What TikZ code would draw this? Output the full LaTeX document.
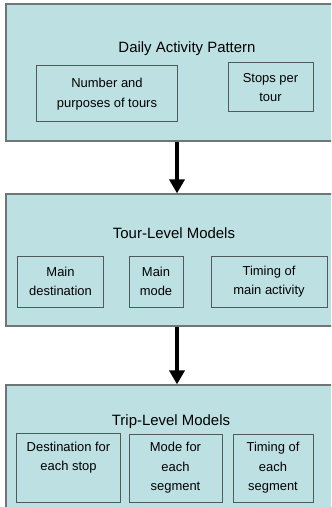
\documentclass[tikz,border=0pt]{standalone}
\usepackage{fontspec}
\setmainfont{Liberation Sans}
\usetikzlibrary{arrows.meta}
\definecolor{boxfill}{RGB}{189,224,227}
\definecolor{outerline}{RGB}{110,118,118}
\definecolor{innerline}{RGB}{80,90,90}
\begin{document}
\begin{tikzpicture}[x=1bp,y=-1bp,
  bigbox/.style={draw=outerline, line width=1.2bp, fill=boxfill, inner sep=0pt},
  smallbox/.style={draw=innerline, line width=1bp, inner sep=0pt, align=center, font=\fontsize{13}{19.5}\selectfont},
  plaintext/.style={inner sep=0pt, align=center, font=\fontsize{13}{19.5}\selectfont},
  title/.style={inner sep=0pt, font=\fontsize{15}{18}\selectfont},
  arr/.style={line width=3.5bp, -{Triangle[width=15bp,length=14bp]}}]
\useasboundingbox (0,0) rectangle (331,507);
\clip (0,0) rectangle (331,507);
% level 1
\node[bigbox, minimum width=334bp, minimum height=137bp] (b1) at (173,72.5) {};
\node[title] (t1) at (187,49) {Daily Activity Pattern};
\node[smallbox, minimum width=140bp, minimum height=56bp] (n1) at (107,94) {Number and\\purposes of tours};
\node[smallbox, minimum width=85bp, minimum height=49bp] (n2) at (270.5,87.5) {Stops per\\tour};
% level 2
\node[bigbox, minimum width=334bp, minimum height=132bp] (b2) at (173,260) {};
\node[title] (t2) at (174,233) {Tour-Level Models};
\node[smallbox, minimum width=85bp, minimum height=51bp] (m1) at (60.5,281.5) {Main\\destination};
\node[smallbox, minimum width=54bp, minimum height=51bp] (m2) at (156,281.5) {Main\\mode};
\node[smallbox, minimum width=116bp, minimum height=51bp] (m3) at (269,281.5) {Timing of\\main activity};
% level 3
\node[bigbox, minimum width=334bp, minimum height=135bp] (b3) at (173,452.5) {};
\node[title] (t3) at (171,422) {Trip-Level Models};
\node[smallbox, minimum width=103bp, minimum height=69bp] (r1) at (68.5,467.5) {};
\node[plaintext] (r1t) at (68.5,457.5) {Destination for\\each stop};
\node[smallbox, minimum width=93bp, minimum height=68bp] (r2) at (175.5,468) {Mode for\\each\\segment};
\node[smallbox, minimum width=80bp, minimum height=68bp] (r3) at (273,468) {Timing of\\each\\segment};
% arrows
\coordinate (ax) at (177,0);
\draw[arr] (ax |- b1.south) -- (ax |- b2.north);
\draw[arr] (ax |- b2.south) -- (ax |- b3.north);
\end{tikzpicture}
\end{document}
